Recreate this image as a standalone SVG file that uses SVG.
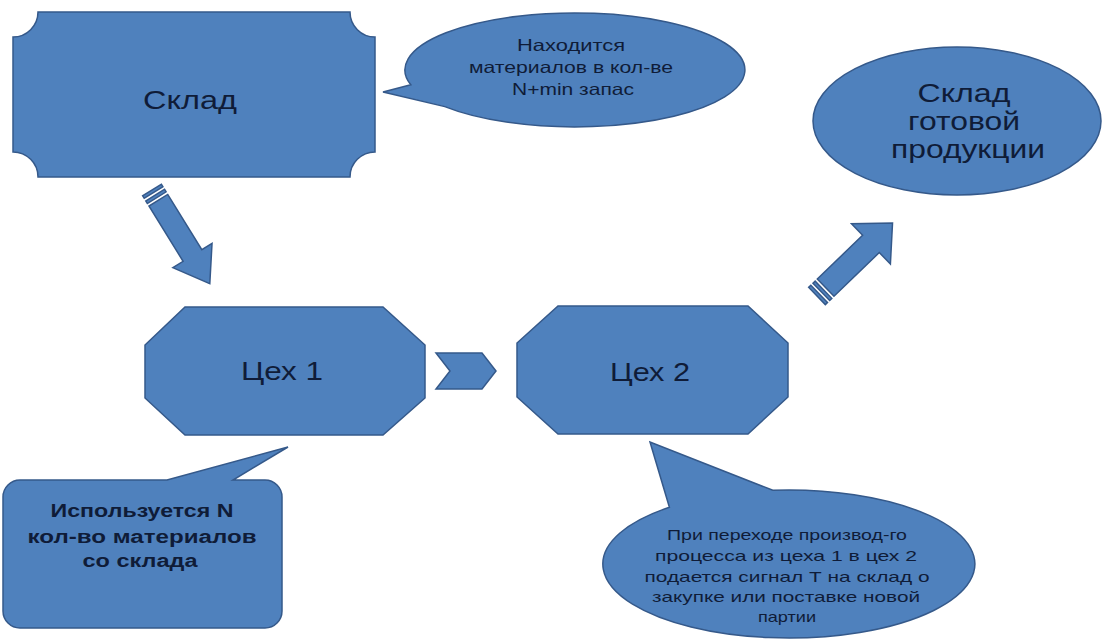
<svg xmlns="http://www.w3.org/2000/svg" width="1115" height="642" viewBox="0 0 1115 642">
  <style>
    .shape { fill: #4f81bd; stroke: #35598a; stroke-width: 1.5; stroke-linejoin: miter; }
    .t { font-family: "Liberation Sans", Arial, sans-serif; fill: #0f1c38; text-anchor: middle; }
    .big { font-size: 25px; }
    .small { font-size: 16.5px; }
    .note { font-size: 15px; }
    .bold { font-size: 18px; font-weight: bold; }
  </style>
  <rect x="0" y="0" width="1115" height="642" fill="#ffffff"/>

  <g id="connectors">
    <g id="arrow-sklad-tseh1" transform="translate(152,190) rotate(58.3)">
      <rect class="shape" x="0" y="-11" width="3" height="22"/>
      <rect class="shape" x="6" y="-11" width="3" height="22"/>
      <path class="shape" d="M12,-11 L77,-11 L77,-23 L110,0 L77,23 L77,11 L12,11 Z"/>
    </g>
    <g id="chevron-tseh1-tseh2">
      <path class="shape" d="M436,353 L482,353 L496,371 L482,389 L436,389 L450,371 Z"/>
    </g>
    <g id="arrow-tseh2-gp" transform="translate(817,296) rotate(-44)">
      <rect class="shape" x="0" y="-12" width="3" height="24"/>
      <rect class="shape" x="6" y="-12" width="3" height="24"/>
      <path class="shape" d="M12,-12 L75,-12 L75,-28 L105,0 L75,28 L75,12 L12,12 Z"/>
    </g>
  </g>

  <g id="node-sklad">
    <path class="shape" d="M38,12 L350,12 A25,25 0 0 0 375,37 L375,152 A25,25 0 0 0 350,177 L38,177 A25,25 0 0 0 13,152 L13,37 A25,25 0 0 0 38,12 Z"/>
    <text class="t big" x="190" y="109" textLength="94" lengthAdjust="spacingAndGlyphs">Склад</text>
  </g>

  <g id="note-sklad">
    <path class="shape" d="M410.8,84.8 L383,92 L444.8,106.6 A170,57 0 1 0 410.8,84.8 Z"/>
    <text class="t small" x="571" y="51" textLength="108" lengthAdjust="spacingAndGlyphs">Находится</text>
    <text class="t small" x="571" y="73" textLength="204" lengthAdjust="spacingAndGlyphs">материалов в кол-ве</text>
    <text class="t small" x="573" y="95" textLength="122" lengthAdjust="spacingAndGlyphs">N+min запас</text>
  </g>

  <g id="node-sklad-gp">
    <ellipse class="shape" cx="957" cy="121" rx="144" ry="74"/>
    <text class="t big" x="964" y="102" textLength="93" lengthAdjust="spacingAndGlyphs">Склад</text>
    <text class="t big" x="964" y="130" textLength="112" lengthAdjust="spacingAndGlyphs">готовой</text>
    <text class="t big" x="968" y="158" textLength="154" lengthAdjust="spacingAndGlyphs">продукции</text>
  </g>

  <g id="node-tseh1">
    <path class="shape" d="M185,307 L383,307 L425,345 L425,398 L383,435 L185,435 L145,398 L145,345 Z"/>
    <text class="t big" x="282" y="380" textLength="82" lengthAdjust="spacingAndGlyphs">Цех 1</text>
  </g>

  <g id="node-tseh2">
    <path class="shape" d="M558,306 L748,306 L788,343 L788,397 L748,434 L558,434 L517,397 L517,343 Z"/>
    <text class="t big" x="650" y="381" textLength="80" lengthAdjust="spacingAndGlyphs">Цех 2</text>
  </g>

  <g id="note-tseh1">
    <path class="shape" d="M20,480 L167,480 L288,447 L233,480 L265,480 A17,17 0 0 1 282,497 L282,611 A17,17 0 0 1 265,628 L20,628 A17,17 0 0 1 3,611 L3,497 A17,17 0 0 1 20,480 Z"/>
    <text class="t bold" x="142" y="517" textLength="183" lengthAdjust="spacingAndGlyphs">Используется N</text>
    <text class="t bold" x="142" y="543" textLength="229" lengthAdjust="spacingAndGlyphs">кол-во материалов</text>
    <text class="t bold" x="140" y="567" textLength="115" lengthAdjust="spacingAndGlyphs">со склада</text>
  </g>

  <g id="note-tseh2">
    <path class="shape" d="M669.4,507.3 L650,442 L772.8,490.3 A186,74 0 1 1 669.4,507.3 Z"/>
    <text class="t note" x="787" y="540" textLength="240" lengthAdjust="spacingAndGlyphs">При переходе производ-го</text>
    <text class="t note" x="786" y="561" textLength="262" lengthAdjust="spacingAndGlyphs">процесса из цеха 1  в цех 2</text>
    <text class="t note" x="787" y="582" textLength="285" lengthAdjust="spacingAndGlyphs">подается сигнал Т на склад о</text>
    <text class="t note" x="786" y="602" textLength="268" lengthAdjust="spacingAndGlyphs">закупке или поставке новой</text>
    <text class="t note" x="787" y="622" textLength="58" lengthAdjust="spacingAndGlyphs">партии</text>
  </g>
</svg>
